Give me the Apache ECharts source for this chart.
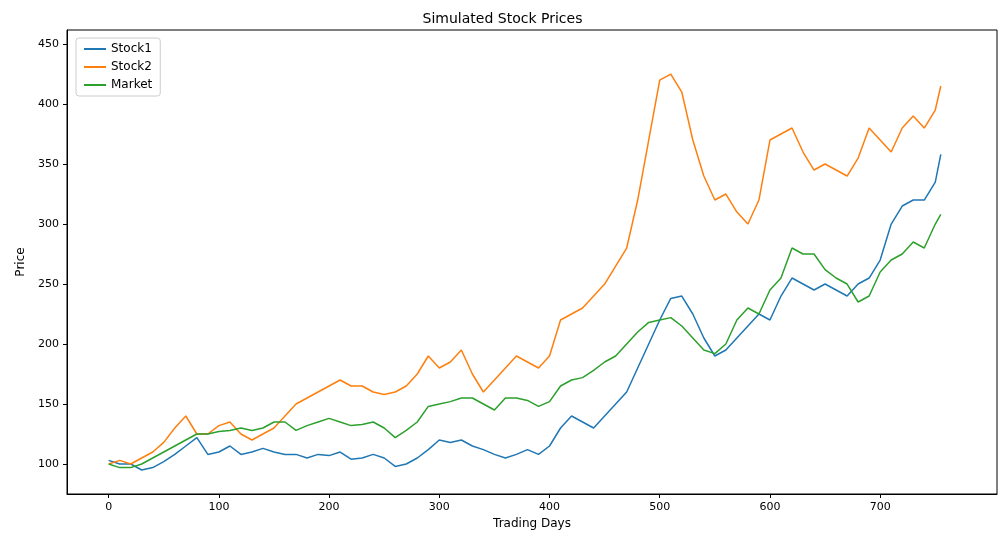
<!DOCTYPE html><html><head><meta charset="utf-8"><script src="https://cdn.jsdelivr.net/npm/echarts@6/dist/echarts.min.js"></script></head><body style="margin:0"><div id="c" style="width:1005px;height:547px"></div><script>
const days=[0,10,20,30,40,50,60,70,80,90,100,110,120,130,140,150,160,170,180,190,200,210,220,230,240,250,260,270,280,290,300,310,320,330,340,350,360,370,380,390,400,410,420,430,440,450,460,470,480,490,500,510,520,530,540,550,560,570,580,590,600,610,620,630,640,650,660,670,680,690,700,710,720,730,740,750,755];
const stock1=[103,100,100,95,97,102,108,115,122,108,110,115,108,110,113,110,108,108,105,108,107,110,104,105,108,105,98,100,105,112,120,118,120,115,112,108,105,108,112,108,115,130,140,135,130,140,150,160,180,200,220,238,240,225,205,190,195,205,215,225,220,240,255,250,245,250,245,240,250,255,270,300,315,320,320,335,358];
const stock2=[100,103,100,105,110,118,130,140,125,125,132,135,125,120,125,130,140,150,155,160,165,170,165,165,160,158,160,165,175,190,180,185,195,175,160,170,180,190,185,180,190,220,225,230,240,250,265,280,320,370,420,425,410,370,340,320,325,310,300,320,370,375,380,360,345,350,345,340,355,380,370,360,380,390,380,395,415];
const market=[100,97,97,100,105,110,115,120,125,125,127,128,130,128,130,135,135,128,132,135,138,135,132,133,135,130,122,128,135,148,150,152,155,155,150,145,155,155,153,148,152,165,170,172,178,185,190,200,210,218,220,222,215,205,195,192,200,220,230,225,245,255,280,275,275,262,255,250,235,240,260,270,275,285,280,300,308];
const xTicks=[0,100,200,300,400,500,600,700];
const yTicks=[100,150,200,250,300,350,400,450];
const pairs=a=>days.map((d,i)=>[d,a[i]]);
const line={onZero:false,lineStyle:{color:'#000'}};
const lbl={color:'#000',fontSize:11,fontFamily:'DejaVu Sans'};
const tick={show:true,length:4,lineStyle:{color:'#000'}};
const nts={color:'#000',fontSize:12,fontFamily:'DejaVu Sans'};
const chart=echarts.init(document.getElementById('c'));
chart.setOption({animation:false,
title:{text:'Simulated Stock Prices',left:'center',top:7,textStyle:{fontWeight:'normal',fontSize:14,fontFamily:'DejaVu Sans',color:'#000'}},
legend:{left:76,top:38,orient:'vertical',itemWidth:22,itemHeight:2,itemGap:6,icon:'rect',borderColor:'#ccc',borderWidth:1,borderRadius:3,padding:[5,8],textStyle:{fontFamily:'DejaVu Sans',fontSize:12,color:'#000'},data:['Stock1','Stock2','Market']},
grid:{left:67,right:8,top:30,bottom:53,show:true,borderColor:'#000',borderWidth:1},
xAxis:{type:'value',min:-37.8,max:806,name:'Trading Days',nameLocation:'middle',nameGap:24,nameTextStyle:nts,axisLine:line,splitLine:{show:false},axisLabel:Object.assign({customValues:xTicks},lbl),axisTick:Object.assign({customValues:xTicks},tick)},
yAxis:{type:'value',min:75,max:461.7,name:'Price',nameLocation:'middle',nameGap:36,nameTextStyle:nts,axisLine:Object.assign({show:true},line),splitLine:{show:false},axisLabel:Object.assign({customValues:yTicks},lbl),axisTick:Object.assign({customValues:yTicks},tick)},
series:[
{name:'Stock1',type:'line',data:pairs(stock1),showSymbol:false,color:'#1f77b4',lineStyle:{width:1.5}},
{name:'Stock2',type:'line',data:pairs(stock2),showSymbol:false,color:'#ff7f0e',lineStyle:{width:1.5}},
{name:'Market',type:'line',data:pairs(market),showSymbol:false,color:'#2ca02c',lineStyle:{width:1.5}}]});
</script></body></html>
